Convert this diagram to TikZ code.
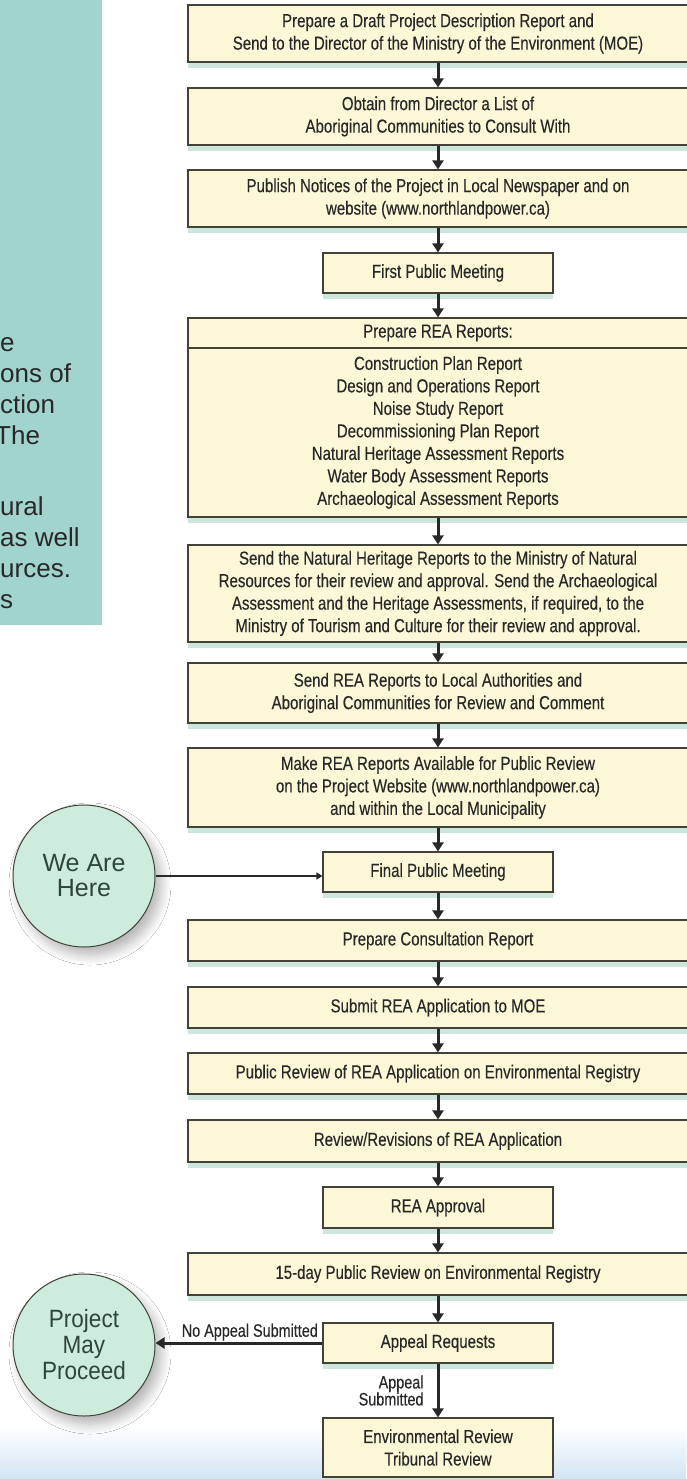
\documentclass[tikz,border=0pt]{standalone}
\usepackage{fontspec}
\setmainfont{Liberation Sans}
\newfontfamily\condfont[FakeStretch=0.8,FakeBold=0.25]{Liberation Sans}
\newfontfamily\bubblefont[FakeStretch=0.9]{Liberation Sans}
\usetikzlibrary{arrows.meta,shadows,shadows.blur}

\definecolor{boxfill}{RGB}{252,247,214}
\definecolor{boxline}{RGB}{66,66,56}
\definecolor{panelteal}{RGB}{160,212,204}
\definecolor{circfill}{RGB}{206,236,220}
\definecolor{glow}{RGB}{204,230,219}
\definecolor{ink}{RGB}{40,40,40}
\definecolor{bubbleink}{RGB}{46,70,58}
\definecolor{bottomblue}{RGB}{210,228,244}

\tikzset{every node/.style={inner sep=0pt,text=ink}}
\tikzset{wide/.style={rectangle,draw=boxline,line width=1.2pt,fill=boxfill,minimum width=500pt,align=center,
  font=\condfont\fontsize{18.8}{22.5}\selectfont,
  drop shadow={shadow xshift=0pt,shadow yshift=-6pt,fill=glow,opacity=1}}}
\tikzset{narrow/.style={wide,minimum width=230pt}}
\tikzset{flow/.style={draw=ink,line width=3pt,-{Triangle[width=11pt,length=9pt]}}}
\tikzset{pointer/.style={draw=ink,line width=2pt,-{Triangle[width=7pt,length=6pt]}}}
\tikzset{bubble/.style={circle,draw=boxline,line width=1pt,fill=circfill,minimum size=142pt,align=center,text=bubbleink,
  blur shadow={shadow xshift=6pt,shadow yshift=-8pt,shadow blur radius=10pt,shadow blur steps=12,shadow opacity=30}}}
\tikzset{paneltext/.style={anchor=base west,font=\fontsize{26}{30}\selectfont,text=ink}}
\tikzset{arrowlabel/.style={font=\condfont\fontsize{18}{17}\selectfont,align=right}}

\begin{document}
\begin{tikzpicture}[x=1pt,y=-1pt]
  \useasboundingbox (0,0) rectangle (686,1479);
  \fill[white] (0,0) rectangle (686,1479);
  \shade[top color=white,bottom color=bottomblue] (0,1425) rectangle (686,1479);
  \fill[panelteal] (0,0) rectangle (102,625);

  \node[paneltext] (p1) at (0,351) {e};
  \node[paneltext] (p2) at (0,382) {ons of};
  \node[paneltext] (p3) at (0,413) {ction};
  \node[paneltext] (p4) at (-5,444) {The};
  \node[paneltext] (p5) at (0,515) {ural};
  \node[paneltext] (p6) at (0,546) {as well};
  \node[paneltext] (p7) at (0,577) {urces.};
  \node[paneltext] (p8) at (0,608) {s};

  \node[wide,minimum height=57pt] (draft) at (438,33.5) {Prepare a Draft Project Description Report and\\Send to the Director of the Ministry of the Environment (MOE)};
  \node[wide,minimum height=57pt] (obtain) at (438,116.5) {Obtain from Director a List of\\Aboriginal Communities to Consult With};
  \node[wide,minimum height=57pt] (publish) at (438,198.5) {Publish Notices of the Project in Local Newspaper and on\\website (www.northlandpower.ca)};
  \node[narrow,minimum height=40pt] (first) at (438,273) {First Public Meeting};
  \node[wide,minimum height=30pt] (reahead) at (438,333) {Prepare REA Reports:};
  \node[wide,minimum height=169pt] (reabody) at (438,432.5) {Construction Plan Report\\Design and Operations Report\\Noise Study Report\\Decommissioning Plan Report\\Natural Heritage Assessment Reports\\Water Body Assessment Reports\\Archaeological Assessment Reports};
  \node[wide,minimum height=97pt] (natural) at (438,593.5) {Send the Natural Heritage Reports to the Ministry of Natural\\Resources for their review and approval. Send the Archaeological\\Assessment and the Heritage Assessments, if required, to the\\Ministry of Tourism and Culture for their review and approval.};
  \node[wide,minimum height=60pt] (sendrea) at (438,693) {Send REA Reports to Local Authorities and\\Aboriginal Communities for Review and Comment};
  \node[wide,minimum height=79pt] (makerea) at (438,787.5) {Make REA Reports Available for Public Review\\on the Project Website (www.northlandpower.ca)\\and within the Local Municipality};
  \node[narrow,minimum height=40pt] (final) at (438,872) {Final Public Meeting};
  \node[wide,minimum height=41pt] (consult) at (438,940.5) {Prepare Consultation Report};
  \node[wide,minimum height=41pt] (submit) at (438,1007.5) {Submit REA Application to MOE};
  \node[wide,minimum height=41pt] (pubrev) at (438,1073.5) {Public Review of REA Application on Environmental Registry};
  \node[wide,minimum height=42pt] (revise) at (438,1141) {Review/Revisions of REA Application};
  \node[narrow,minimum height=41pt] (approval) at (438,1207.5) {REA Approval};
  \node[wide,minimum height=42pt] (fifteen) at (438,1274) {15-day Public Review on Environmental Registry};
  \node[narrow,minimum height=40pt] (appeal) at (438,1343) {Appeal Requests};
  \node[narrow,minimum height=59pt] (tribunal) at (438,1447.5) {Environmental Review\\Tribunal Review};

  \node[bubble,font=\fontsize{25}{25}\selectfont] (here) at (84,876) {We Are\\Here};
  \node[bubble,font=\bubblefont\fontsize{25}{26}\selectfont] (proceed) at (84,1345) {Project\\May\\Proceed};

  \draw[flow] (draft) -- (obtain);
  \draw[flow] (obtain) -- (publish);
  \draw[flow] (publish) -- (first);
  \draw[flow] (first) -- (reahead);
  \draw[flow] (reabody) -- (natural);
  \draw[flow] (natural) -- (sendrea);
  \draw[flow] (sendrea) -- (makerea);
  \draw[flow] (makerea) -- (final);
  \draw[flow] (final) -- (consult);
  \draw[flow] (consult) -- (submit);
  \draw[flow] (submit) -- (pubrev);
  \draw[flow] (pubrev) -- (revise);
  \draw[flow] (revise) -- (approval);
  \draw[flow] (approval) -- (fifteen);
  \draw[flow] (fifteen) -- (appeal);
  \draw[pointer] (here.east) -- (here.east -| final.west);
  \draw[flow] (appeal.west) -- (appeal.west -| proceed.east)
    node[arrowlabel,pos=0,above left,xshift=-3pt,yshift=1pt] {No Appeal Submitted};
  \draw[flow] (appeal) -- node[arrowlabel,left,xshift=-13pt] {Appeal\\Submitted} (tribunal);
\end{tikzpicture}
\end{document}
